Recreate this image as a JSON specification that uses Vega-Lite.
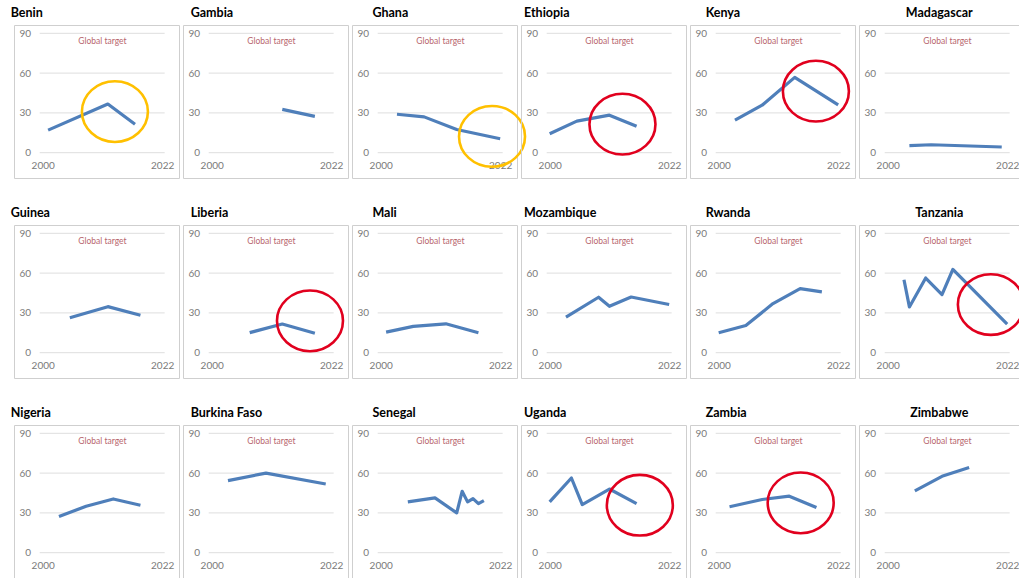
{
  "$schema": "https://vega.github.io/schema/vega-lite/v6.json",
  "background": "white",
  "padding": {"left": 10, "top": 6, "right": 0, "bottom": 3},
  "datasets": {
    "series": [
      {"country": "Benin", "year": 2001, "value": 17},
      {"country": "Benin", "year": 2012, "value": 36.7},
      {"country": "Benin", "year": 2017, "value": 21.4},
      {"country": "Gambia", "year": 2013, "value": 32.7},
      {"country": "Gambia", "year": 2019, "value": 27.4},
      {"country": "Ghana", "year": 2003, "value": 29},
      {"country": "Ghana", "year": 2008, "value": 27},
      {"country": "Ghana", "year": 2014, "value": 17.5},
      {"country": "Ghana", "year": 2022, "value": 10.5},
      {"country": "Ethiopia", "year": 2000, "value": 14.3},
      {"country": "Ethiopia", "year": 2005, "value": 23.8},
      {"country": "Ethiopia", "year": 2011, "value": 28.3},
      {"country": "Ethiopia", "year": 2016, "value": 20},
      {"country": "Kenya", "year": 2003, "value": 24.5},
      {"country": "Kenya", "year": 2008, "value": 35.8},
      {"country": "Kenya", "year": 2014, "value": 56.8},
      {"country": "Kenya", "year": 2022, "value": 36},
      {"country": "Madagascar", "year": 2004, "value": 5.3},
      {"country": "Madagascar", "year": 2008, "value": 6},
      {"country": "Madagascar", "year": 2021, "value": 4.3},
      {"country": "Guinea", "year": 2005, "value": 26.4},
      {"country": "Guinea", "year": 2012, "value": 34.7},
      {"country": "Guinea", "year": 2018, "value": 28.2},
      {"country": "Liberia", "year": 2007, "value": 15.1},
      {"country": "Liberia", "year": 2013, "value": 21.6},
      {"country": "Liberia", "year": 2019, "value": 14.6},
      {"country": "Mali", "year": 2001, "value": 15.5},
      {"country": "Mali", "year": 2006, "value": 19.8},
      {"country": "Mali", "year": 2012, "value": 21.8},
      {"country": "Mali", "year": 2018, "value": 15},
      {"country": "Mozambique", "year": 2003, "value": 26.8},
      {"country": "Mozambique", "year": 2009, "value": 41.8},
      {"country": "Mozambique", "year": 2011, "value": 35},
      {"country": "Mozambique", "year": 2015, "value": 42},
      {"country": "Mozambique", "year": 2022, "value": 36.3},
      {"country": "Rwanda", "year": 2000, "value": 15},
      {"country": "Rwanda", "year": 2005, "value": 20.5},
      {"country": "Rwanda", "year": 2010, "value": 37},
      {"country": "Rwanda", "year": 2015, "value": 48.3},
      {"country": "Rwanda", "year": 2019, "value": 45.8},
      {"country": "Tanzania", "year": 2003, "value": 55},
      {"country": "Tanzania", "year": 2004, "value": 34.5},
      {"country": "Tanzania", "year": 2007, "value": 56.3},
      {"country": "Tanzania", "year": 2010, "value": 43.8},
      {"country": "Tanzania", "year": 2012, "value": 62.8},
      {"country": "Tanzania", "year": 2022, "value": 21.5},
      {"country": "Nigeria", "year": 2003, "value": 27.3},
      {"country": "Nigeria", "year": 2008, "value": 35},
      {"country": "Nigeria", "year": 2013, "value": 40.5},
      {"country": "Nigeria", "year": 2018, "value": 35.8},
      {"country": "Burkina Faso", "year": 2003, "value": 54.3},
      {"country": "Burkina Faso", "year": 2010, "value": 60},
      {"country": "Burkina Faso", "year": 2021, "value": 51.8},
      {"country": "Senegal", "year": 2005, "value": 38.3},
      {"country": "Senegal", "year": 2010, "value": 41.3},
      {"country": "Senegal", "year": 2014, "value": 30},
      {"country": "Senegal", "year": 2015, "value": 46.3},
      {"country": "Senegal", "year": 2016, "value": 38.3},
      {"country": "Senegal", "year": 2017, "value": 40.8},
      {"country": "Senegal", "year": 2018, "value": 37},
      {"country": "Senegal", "year": 2019, "value": 39.3},
      {"country": "Uganda", "year": 2000, "value": 38.3},
      {"country": "Uganda", "year": 2004, "value": 56.3},
      {"country": "Uganda", "year": 2006, "value": 36.3},
      {"country": "Uganda", "year": 2011, "value": 48},
      {"country": "Uganda", "year": 2016, "value": 37},
      {"country": "Zambia", "year": 2002, "value": 34.6},
      {"country": "Zambia", "year": 2008, "value": 40.1},
      {"country": "Zambia", "year": 2013, "value": 42.6},
      {"country": "Zambia", "year": 2018, "value": 34.1},
      {"country": "Zimbabwe", "year": 2005, "value": 46.6},
      {"country": "Zimbabwe", "year": 2010, "value": 57.6},
      {"country": "Zimbabwe", "year": 2015, "value": 64.2}
    ],
    "levels": [{"g": 0}, {"g": 30}, {"g": 60}, {"g": 90}],
    "notes": [
      {"country": "Benin", "year": 2013.3, "value": 31, "level": "caution"},
      {"country": "Ghana", "year": 2020.5, "value": 12.3, "level": "caution"},
      {"country": "Ethiopia", "year": 2013.4, "value": 21.5, "level": "alert"},
      {"country": "Kenya", "year": 2017.9, "value": 46.4, "level": "alert"},
      {"country": "Liberia", "year": 2018.1, "value": 24, "level": "alert"},
      {"country": "Tanzania", "year": 2019, "value": 36.3, "level": "alert"},
      {"country": "Uganda", "year": 2016.6, "value": 35.8, "level": "alert"},
      {"country": "Zambia", "year": 2015.1, "value": 37.6, "level": "alert"}
    ]
  },
  "columns": 6,
  "spacing": {"row": 47, "column": 4},
  "bounds": "flush",
  "concat": [
    {"title": {"text": "Benin", "dx": -3.3}, "width": 165, "height": 153, "layer": [
      {"data": {"name": "levels"}, "mark": {"type": "rule", "color": "#dedede", "strokeWidth": 1}, "encoding": {"x": {"datum": 1999.45, "type": "quantitative", "scale": {"domain": [1994.72, 2025.1], "nice": false, "zero": false}, "axis": {"values": [2000, 2022], "format": "d", "title": null}}, "x2": {"datum": 2022.46}, "y": {"field": "g", "type": "quantitative", "scale": {"domain": [-19.07, 96.26], "nice": false, "zero": false}, "axis": {"values": [0, 30, 60, 90], "title": null}}}},
      {"data": {"name": "levels"}, "transform": [{"filter": "datum.g === 90"}], "mark": {"type": "text", "font": "Lato", "fontSize": 8.5, "color": "#b8666e", "dy": 7.5, "baseline": "middle"}, "encoding": {"x": {"datum": 2011, "type": "quantitative", "scale": {"domain": [1994.72, 2025.1], "nice": false, "zero": false}, "axis": {"values": [2000, 2022], "format": "d", "title": null}}, "y": {"field": "g", "type": "quantitative", "scale": {"domain": [-19.07, 96.26], "nice": false, "zero": false}, "axis": {"values": [0, 30, 60, 90], "title": null}}, "text": {"value": "Global target"}}},
      {"data": {"name": "series"}, "transform": [{"filter": "datum.country === 'Benin'"}], "mark": {"type": "line", "color": "#4f7fba", "strokeWidth": 3.2, "strokeJoin": "round"}, "encoding": {"x": {"field": "year", "type": "quantitative", "scale": {"domain": [1994.72, 2025.1], "nice": false, "zero": false}, "axis": {"values": [2000, 2022], "format": "d", "title": null}}, "y": {"field": "value", "type": "quantitative", "scale": {"domain": [-19.07, 96.26], "nice": false, "zero": false}, "axis": {"values": [0, 30, 60, 90], "title": null}}}},
      {"data": {"name": "notes"}, "transform": [{"filter": "datum.country === 'Benin'"}], "mark": {"type": "point", "shape": "M-1,0A1,0.92,0,1,0,1,0A1,0.92,0,1,0,-1,0Z", "size": 4356, "filled": false, "strokeWidth": 2.6, "opacity": 1}, "encoding": {"x": {"field": "year", "type": "quantitative", "scale": {"domain": [1994.72, 2025.1], "nice": false, "zero": false}, "axis": {"values": [2000, 2022], "format": "d", "title": null}}, "y": {"field": "value", "type": "quantitative", "scale": {"domain": [-19.07, 96.26], "nice": false, "zero": false}, "axis": {"values": [0, 30, 60, 90], "title": null}}, "color": {"field": "level", "type": "nominal", "scale": {"domain": ["caution", "alert"], "range": ["#ffc000", "#e1001e"]}, "legend": null}}}
    ]},
    {"title": {"text": "Gambia", "dx": 7.7}, "width": 165, "height": 153, "layer": [
      {"data": {"name": "levels"}, "mark": {"type": "rule", "color": "#dedede", "strokeWidth": 1}, "encoding": {"x": {"datum": 1999.45, "type": "quantitative", "scale": {"domain": [1994.72, 2025.1], "nice": false, "zero": false}, "axis": {"values": [2000, 2022], "format": "d", "title": null}}, "x2": {"datum": 2022.46}, "y": {"field": "g", "type": "quantitative", "scale": {"domain": [-19.07, 96.26], "nice": false, "zero": false}, "axis": {"values": [0, 30, 60, 90], "title": null}}}},
      {"data": {"name": "levels"}, "transform": [{"filter": "datum.g === 90"}], "mark": {"type": "text", "font": "Lato", "fontSize": 8.5, "color": "#b8666e", "dy": 7.5, "baseline": "middle"}, "encoding": {"x": {"datum": 2011, "type": "quantitative", "scale": {"domain": [1994.72, 2025.1], "nice": false, "zero": false}, "axis": {"values": [2000, 2022], "format": "d", "title": null}}, "y": {"field": "g", "type": "quantitative", "scale": {"domain": [-19.07, 96.26], "nice": false, "zero": false}, "axis": {"values": [0, 30, 60, 90], "title": null}}, "text": {"value": "Global target"}}},
      {"data": {"name": "series"}, "transform": [{"filter": "datum.country === 'Gambia'"}], "mark": {"type": "line", "color": "#4f7fba", "strokeWidth": 3.2, "strokeJoin": "round"}, "encoding": {"x": {"field": "year", "type": "quantitative", "scale": {"domain": [1994.72, 2025.1], "nice": false, "zero": false}, "axis": {"values": [2000, 2022], "format": "d", "title": null}}, "y": {"field": "value", "type": "quantitative", "scale": {"domain": [-19.07, 96.26], "nice": false, "zero": false}, "axis": {"values": [0, 30, 60, 90], "title": null}}}}
    ]},
    {"title": {"text": "Ghana", "dx": 20.4}, "width": 165, "height": 153, "layer": [
      {"data": {"name": "levels"}, "mark": {"type": "rule", "color": "#dedede", "strokeWidth": 1}, "encoding": {"x": {"datum": 1999.45, "type": "quantitative", "scale": {"domain": [1994.72, 2025.1], "nice": false, "zero": false}, "axis": {"values": [2000, 2022], "format": "d", "title": null}}, "x2": {"datum": 2022.46}, "y": {"field": "g", "type": "quantitative", "scale": {"domain": [-19.07, 96.26], "nice": false, "zero": false}, "axis": {"values": [0, 30, 60, 90], "title": null}}}},
      {"data": {"name": "levels"}, "transform": [{"filter": "datum.g === 90"}], "mark": {"type": "text", "font": "Lato", "fontSize": 8.5, "color": "#b8666e", "dy": 7.5, "baseline": "middle"}, "encoding": {"x": {"datum": 2011, "type": "quantitative", "scale": {"domain": [1994.72, 2025.1], "nice": false, "zero": false}, "axis": {"values": [2000, 2022], "format": "d", "title": null}}, "y": {"field": "g", "type": "quantitative", "scale": {"domain": [-19.07, 96.26], "nice": false, "zero": false}, "axis": {"values": [0, 30, 60, 90], "title": null}}, "text": {"value": "Global target"}}},
      {"data": {"name": "series"}, "transform": [{"filter": "datum.country === 'Ghana'"}], "mark": {"type": "line", "color": "#4f7fba", "strokeWidth": 3.2, "strokeJoin": "round"}, "encoding": {"x": {"field": "year", "type": "quantitative", "scale": {"domain": [1994.72, 2025.1], "nice": false, "zero": false}, "axis": {"values": [2000, 2022], "format": "d", "title": null}}, "y": {"field": "value", "type": "quantitative", "scale": {"domain": [-19.07, 96.26], "nice": false, "zero": false}, "axis": {"values": [0, 30, 60, 90], "title": null}}}},
      {"data": {"name": "notes"}, "transform": [{"filter": "datum.country === 'Ghana'"}], "mark": {"type": "point", "shape": "M-1,0A1,0.92,0,1,0,1,0A1,0.92,0,1,0,-1,0Z", "size": 4356, "filled": false, "strokeWidth": 2.6, "opacity": 1}, "encoding": {"x": {"field": "year", "type": "quantitative", "scale": {"domain": [1994.72, 2025.1], "nice": false, "zero": false}, "axis": {"values": [2000, 2022], "format": "d", "title": null}}, "y": {"field": "value", "type": "quantitative", "scale": {"domain": [-19.07, 96.26], "nice": false, "zero": false}, "axis": {"values": [0, 30, 60, 90], "title": null}}, "color": {"field": "level", "type": "nominal", "scale": {"domain": ["caution", "alert"], "range": ["#ffc000", "#e1001e"]}, "legend": null}}}
    ]},
    {"title": {"text": "Ethiopia", "dx": 3}, "width": 165, "height": 153, "layer": [
      {"data": {"name": "levels"}, "mark": {"type": "rule", "color": "#dedede", "strokeWidth": 1}, "encoding": {"x": {"datum": 1999.45, "type": "quantitative", "scale": {"domain": [1994.72, 2025.1], "nice": false, "zero": false}, "axis": {"values": [2000, 2022], "format": "d", "title": null}}, "x2": {"datum": 2022.46}, "y": {"field": "g", "type": "quantitative", "scale": {"domain": [-19.07, 96.26], "nice": false, "zero": false}, "axis": {"values": [0, 30, 60, 90], "title": null}}}},
      {"data": {"name": "levels"}, "transform": [{"filter": "datum.g === 90"}], "mark": {"type": "text", "font": "Lato", "fontSize": 8.5, "color": "#b8666e", "dy": 7.5, "baseline": "middle"}, "encoding": {"x": {"datum": 2011, "type": "quantitative", "scale": {"domain": [1994.72, 2025.1], "nice": false, "zero": false}, "axis": {"values": [2000, 2022], "format": "d", "title": null}}, "y": {"field": "g", "type": "quantitative", "scale": {"domain": [-19.07, 96.26], "nice": false, "zero": false}, "axis": {"values": [0, 30, 60, 90], "title": null}}, "text": {"value": "Global target"}}},
      {"data": {"name": "series"}, "transform": [{"filter": "datum.country === 'Ethiopia'"}], "mark": {"type": "line", "color": "#4f7fba", "strokeWidth": 3.2, "strokeJoin": "round"}, "encoding": {"x": {"field": "year", "type": "quantitative", "scale": {"domain": [1994.72, 2025.1], "nice": false, "zero": false}, "axis": {"values": [2000, 2022], "format": "d", "title": null}}, "y": {"field": "value", "type": "quantitative", "scale": {"domain": [-19.07, 96.26], "nice": false, "zero": false}, "axis": {"values": [0, 30, 60, 90], "title": null}}}},
      {"data": {"name": "notes"}, "transform": [{"filter": "datum.country === 'Ethiopia'"}], "mark": {"type": "point", "shape": "M-1,0A1,0.92,0,1,0,1,0A1,0.92,0,1,0,-1,0Z", "size": 4356, "filled": false, "strokeWidth": 2.6, "opacity": 1}, "encoding": {"x": {"field": "year", "type": "quantitative", "scale": {"domain": [1994.72, 2025.1], "nice": false, "zero": false}, "axis": {"values": [2000, 2022], "format": "d", "title": null}}, "y": {"field": "value", "type": "quantitative", "scale": {"domain": [-19.07, 96.26], "nice": false, "zero": false}, "axis": {"values": [0, 30, 60, 90], "title": null}}, "color": {"field": "level", "type": "nominal", "scale": {"domain": ["caution", "alert"], "range": ["#ffc000", "#e1001e"]}, "legend": null}}}
    ]},
    {"title": {"text": "Kenya", "dx": 15.7}, "width": 165, "height": 153, "layer": [
      {"data": {"name": "levels"}, "mark": {"type": "rule", "color": "#dedede", "strokeWidth": 1}, "encoding": {"x": {"datum": 1999.45, "type": "quantitative", "scale": {"domain": [1994.72, 2025.1], "nice": false, "zero": false}, "axis": {"values": [2000, 2022], "format": "d", "title": null}}, "x2": {"datum": 2022.46}, "y": {"field": "g", "type": "quantitative", "scale": {"domain": [-19.07, 96.26], "nice": false, "zero": false}, "axis": {"values": [0, 30, 60, 90], "title": null}}}},
      {"data": {"name": "levels"}, "transform": [{"filter": "datum.g === 90"}], "mark": {"type": "text", "font": "Lato", "fontSize": 8.5, "color": "#b8666e", "dy": 7.5, "baseline": "middle"}, "encoding": {"x": {"datum": 2011, "type": "quantitative", "scale": {"domain": [1994.72, 2025.1], "nice": false, "zero": false}, "axis": {"values": [2000, 2022], "format": "d", "title": null}}, "y": {"field": "g", "type": "quantitative", "scale": {"domain": [-19.07, 96.26], "nice": false, "zero": false}, "axis": {"values": [0, 30, 60, 90], "title": null}}, "text": {"value": "Global target"}}},
      {"data": {"name": "series"}, "transform": [{"filter": "datum.country === 'Kenya'"}], "mark": {"type": "line", "color": "#4f7fba", "strokeWidth": 3.2, "strokeJoin": "round"}, "encoding": {"x": {"field": "year", "type": "quantitative", "scale": {"domain": [1994.72, 2025.1], "nice": false, "zero": false}, "axis": {"values": [2000, 2022], "format": "d", "title": null}}, "y": {"field": "value", "type": "quantitative", "scale": {"domain": [-19.07, 96.26], "nice": false, "zero": false}, "axis": {"values": [0, 30, 60, 90], "title": null}}}},
      {"data": {"name": "notes"}, "transform": [{"filter": "datum.country === 'Kenya'"}], "mark": {"type": "point", "shape": "M-1,0A1,0.92,0,1,0,1,0A1,0.92,0,1,0,-1,0Z", "size": 4356, "filled": false, "strokeWidth": 2.6, "opacity": 1}, "encoding": {"x": {"field": "year", "type": "quantitative", "scale": {"domain": [1994.72, 2025.1], "nice": false, "zero": false}, "axis": {"values": [2000, 2022], "format": "d", "title": null}}, "y": {"field": "value", "type": "quantitative", "scale": {"domain": [-19.07, 96.26], "nice": false, "zero": false}, "axis": {"values": [0, 30, 60, 90], "title": null}}, "color": {"field": "level", "type": "nominal", "scale": {"domain": ["caution", "alert"], "range": ["#ffc000", "#e1001e"]}, "legend": null}}}
    ]},
    {"title": {"text": "Madagascar", "anchor": "middle"}, "width": 160.5, "height": 153, "layer": [
      {"data": {"name": "levels"}, "mark": {"type": "rule", "color": "#dedede", "strokeWidth": 1}, "encoding": {"x": {"datum": 1999.45, "type": "quantitative", "scale": {"domain": [1994.72, 2024.27], "nice": false, "zero": false}, "axis": {"values": [2000, 2022], "format": "d", "title": null}}, "x2": {"datum": 2022.46}, "y": {"field": "g", "type": "quantitative", "scale": {"domain": [-19.07, 96.26], "nice": false, "zero": false}, "axis": {"values": [0, 30, 60, 90], "title": null}}}},
      {"data": {"name": "levels"}, "transform": [{"filter": "datum.g === 90"}], "mark": {"type": "text", "font": "Lato", "fontSize": 8.5, "color": "#b8666e", "dy": 7.5, "baseline": "middle"}, "encoding": {"x": {"datum": 2011, "type": "quantitative", "scale": {"domain": [1994.72, 2024.27], "nice": false, "zero": false}, "axis": {"values": [2000, 2022], "format": "d", "title": null}}, "y": {"field": "g", "type": "quantitative", "scale": {"domain": [-19.07, 96.26], "nice": false, "zero": false}, "axis": {"values": [0, 30, 60, 90], "title": null}}, "text": {"value": "Global target"}}},
      {"data": {"name": "series"}, "transform": [{"filter": "datum.country === 'Madagascar'"}], "mark": {"type": "line", "color": "#4f7fba", "strokeWidth": 3.2, "strokeJoin": "round"}, "encoding": {"x": {"field": "year", "type": "quantitative", "scale": {"domain": [1994.72, 2024.27], "nice": false, "zero": false}, "axis": {"values": [2000, 2022], "format": "d", "title": null}}, "y": {"field": "value", "type": "quantitative", "scale": {"domain": [-19.07, 96.26], "nice": false, "zero": false}, "axis": {"values": [0, 30, 60, 90], "title": null}}}}
    ]},
    {"title": {"text": "Guinea", "dx": -3.3}, "width": 165, "height": 153, "layer": [
      {"data": {"name": "levels"}, "mark": {"type": "rule", "color": "#dedede", "strokeWidth": 1}, "encoding": {"x": {"datum": 1999.45, "type": "quantitative", "scale": {"domain": [1994.72, 2025.1], "nice": false, "zero": false}, "axis": {"values": [2000, 2022], "format": "d", "title": null}}, "x2": {"datum": 2022.46}, "y": {"field": "g", "type": "quantitative", "scale": {"domain": [-19.07, 96.26], "nice": false, "zero": false}, "axis": {"values": [0, 30, 60, 90], "title": null}}}},
      {"data": {"name": "levels"}, "transform": [{"filter": "datum.g === 90"}], "mark": {"type": "text", "font": "Lato", "fontSize": 8.5, "color": "#b8666e", "dy": 7.5, "baseline": "middle"}, "encoding": {"x": {"datum": 2011, "type": "quantitative", "scale": {"domain": [1994.72, 2025.1], "nice": false, "zero": false}, "axis": {"values": [2000, 2022], "format": "d", "title": null}}, "y": {"field": "g", "type": "quantitative", "scale": {"domain": [-19.07, 96.26], "nice": false, "zero": false}, "axis": {"values": [0, 30, 60, 90], "title": null}}, "text": {"value": "Global target"}}},
      {"data": {"name": "series"}, "transform": [{"filter": "datum.country === 'Guinea'"}], "mark": {"type": "line", "color": "#4f7fba", "strokeWidth": 3.2, "strokeJoin": "round"}, "encoding": {"x": {"field": "year", "type": "quantitative", "scale": {"domain": [1994.72, 2025.1], "nice": false, "zero": false}, "axis": {"values": [2000, 2022], "format": "d", "title": null}}, "y": {"field": "value", "type": "quantitative", "scale": {"domain": [-19.07, 96.26], "nice": false, "zero": false}, "axis": {"values": [0, 30, 60, 90], "title": null}}}}
    ]},
    {"title": {"text": "Liberia", "dx": 7.7}, "width": 165, "height": 153, "layer": [
      {"data": {"name": "levels"}, "mark": {"type": "rule", "color": "#dedede", "strokeWidth": 1}, "encoding": {"x": {"datum": 1999.45, "type": "quantitative", "scale": {"domain": [1994.72, 2025.1], "nice": false, "zero": false}, "axis": {"values": [2000, 2022], "format": "d", "title": null}}, "x2": {"datum": 2022.46}, "y": {"field": "g", "type": "quantitative", "scale": {"domain": [-19.07, 96.26], "nice": false, "zero": false}, "axis": {"values": [0, 30, 60, 90], "title": null}}}},
      {"data": {"name": "levels"}, "transform": [{"filter": "datum.g === 90"}], "mark": {"type": "text", "font": "Lato", "fontSize": 8.5, "color": "#b8666e", "dy": 7.5, "baseline": "middle"}, "encoding": {"x": {"datum": 2011, "type": "quantitative", "scale": {"domain": [1994.72, 2025.1], "nice": false, "zero": false}, "axis": {"values": [2000, 2022], "format": "d", "title": null}}, "y": {"field": "g", "type": "quantitative", "scale": {"domain": [-19.07, 96.26], "nice": false, "zero": false}, "axis": {"values": [0, 30, 60, 90], "title": null}}, "text": {"value": "Global target"}}},
      {"data": {"name": "series"}, "transform": [{"filter": "datum.country === 'Liberia'"}], "mark": {"type": "line", "color": "#4f7fba", "strokeWidth": 3.2, "strokeJoin": "round"}, "encoding": {"x": {"field": "year", "type": "quantitative", "scale": {"domain": [1994.72, 2025.1], "nice": false, "zero": false}, "axis": {"values": [2000, 2022], "format": "d", "title": null}}, "y": {"field": "value", "type": "quantitative", "scale": {"domain": [-19.07, 96.26], "nice": false, "zero": false}, "axis": {"values": [0, 30, 60, 90], "title": null}}}},
      {"data": {"name": "notes"}, "transform": [{"filter": "datum.country === 'Liberia'"}], "mark": {"type": "point", "shape": "M-1,0A1,0.92,0,1,0,1,0A1,0.92,0,1,0,-1,0Z", "size": 4356, "filled": false, "strokeWidth": 2.6, "opacity": 1}, "encoding": {"x": {"field": "year", "type": "quantitative", "scale": {"domain": [1994.72, 2025.1], "nice": false, "zero": false}, "axis": {"values": [2000, 2022], "format": "d", "title": null}}, "y": {"field": "value", "type": "quantitative", "scale": {"domain": [-19.07, 96.26], "nice": false, "zero": false}, "axis": {"values": [0, 30, 60, 90], "title": null}}, "color": {"field": "level", "type": "nominal", "scale": {"domain": ["caution", "alert"], "range": ["#ffc000", "#e1001e"]}, "legend": null}}}
    ]},
    {"title": {"text": "Mali", "dx": 20.4}, "width": 165, "height": 153, "layer": [
      {"data": {"name": "levels"}, "mark": {"type": "rule", "color": "#dedede", "strokeWidth": 1}, "encoding": {"x": {"datum": 1999.45, "type": "quantitative", "scale": {"domain": [1994.72, 2025.1], "nice": false, "zero": false}, "axis": {"values": [2000, 2022], "format": "d", "title": null}}, "x2": {"datum": 2022.46}, "y": {"field": "g", "type": "quantitative", "scale": {"domain": [-19.07, 96.26], "nice": false, "zero": false}, "axis": {"values": [0, 30, 60, 90], "title": null}}}},
      {"data": {"name": "levels"}, "transform": [{"filter": "datum.g === 90"}], "mark": {"type": "text", "font": "Lato", "fontSize": 8.5, "color": "#b8666e", "dy": 7.5, "baseline": "middle"}, "encoding": {"x": {"datum": 2011, "type": "quantitative", "scale": {"domain": [1994.72, 2025.1], "nice": false, "zero": false}, "axis": {"values": [2000, 2022], "format": "d", "title": null}}, "y": {"field": "g", "type": "quantitative", "scale": {"domain": [-19.07, 96.26], "nice": false, "zero": false}, "axis": {"values": [0, 30, 60, 90], "title": null}}, "text": {"value": "Global target"}}},
      {"data": {"name": "series"}, "transform": [{"filter": "datum.country === 'Mali'"}], "mark": {"type": "line", "color": "#4f7fba", "strokeWidth": 3.2, "strokeJoin": "round"}, "encoding": {"x": {"field": "year", "type": "quantitative", "scale": {"domain": [1994.72, 2025.1], "nice": false, "zero": false}, "axis": {"values": [2000, 2022], "format": "d", "title": null}}, "y": {"field": "value", "type": "quantitative", "scale": {"domain": [-19.07, 96.26], "nice": false, "zero": false}, "axis": {"values": [0, 30, 60, 90], "title": null}}}}
    ]},
    {"title": {"text": "Mozambique", "dx": 3}, "width": 165, "height": 153, "layer": [
      {"data": {"name": "levels"}, "mark": {"type": "rule", "color": "#dedede", "strokeWidth": 1}, "encoding": {"x": {"datum": 1999.45, "type": "quantitative", "scale": {"domain": [1994.72, 2025.1], "nice": false, "zero": false}, "axis": {"values": [2000, 2022], "format": "d", "title": null}}, "x2": {"datum": 2022.46}, "y": {"field": "g", "type": "quantitative", "scale": {"domain": [-19.07, 96.26], "nice": false, "zero": false}, "axis": {"values": [0, 30, 60, 90], "title": null}}}},
      {"data": {"name": "levels"}, "transform": [{"filter": "datum.g === 90"}], "mark": {"type": "text", "font": "Lato", "fontSize": 8.5, "color": "#b8666e", "dy": 7.5, "baseline": "middle"}, "encoding": {"x": {"datum": 2011, "type": "quantitative", "scale": {"domain": [1994.72, 2025.1], "nice": false, "zero": false}, "axis": {"values": [2000, 2022], "format": "d", "title": null}}, "y": {"field": "g", "type": "quantitative", "scale": {"domain": [-19.07, 96.26], "nice": false, "zero": false}, "axis": {"values": [0, 30, 60, 90], "title": null}}, "text": {"value": "Global target"}}},
      {"data": {"name": "series"}, "transform": [{"filter": "datum.country === 'Mozambique'"}], "mark": {"type": "line", "color": "#4f7fba", "strokeWidth": 3.2, "strokeJoin": "round"}, "encoding": {"x": {"field": "year", "type": "quantitative", "scale": {"domain": [1994.72, 2025.1], "nice": false, "zero": false}, "axis": {"values": [2000, 2022], "format": "d", "title": null}}, "y": {"field": "value", "type": "quantitative", "scale": {"domain": [-19.07, 96.26], "nice": false, "zero": false}, "axis": {"values": [0, 30, 60, 90], "title": null}}}}
    ]},
    {"title": {"text": "Rwanda", "dx": 15.7}, "width": 165, "height": 153, "layer": [
      {"data": {"name": "levels"}, "mark": {"type": "rule", "color": "#dedede", "strokeWidth": 1}, "encoding": {"x": {"datum": 1999.45, "type": "quantitative", "scale": {"domain": [1994.72, 2025.1], "nice": false, "zero": false}, "axis": {"values": [2000, 2022], "format": "d", "title": null}}, "x2": {"datum": 2022.46}, "y": {"field": "g", "type": "quantitative", "scale": {"domain": [-19.07, 96.26], "nice": false, "zero": false}, "axis": {"values": [0, 30, 60, 90], "title": null}}}},
      {"data": {"name": "levels"}, "transform": [{"filter": "datum.g === 90"}], "mark": {"type": "text", "font": "Lato", "fontSize": 8.5, "color": "#b8666e", "dy": 7.5, "baseline": "middle"}, "encoding": {"x": {"datum": 2011, "type": "quantitative", "scale": {"domain": [1994.72, 2025.1], "nice": false, "zero": false}, "axis": {"values": [2000, 2022], "format": "d", "title": null}}, "y": {"field": "g", "type": "quantitative", "scale": {"domain": [-19.07, 96.26], "nice": false, "zero": false}, "axis": {"values": [0, 30, 60, 90], "title": null}}, "text": {"value": "Global target"}}},
      {"data": {"name": "series"}, "transform": [{"filter": "datum.country === 'Rwanda'"}], "mark": {"type": "line", "color": "#4f7fba", "strokeWidth": 3.2, "strokeJoin": "round"}, "encoding": {"x": {"field": "year", "type": "quantitative", "scale": {"domain": [1994.72, 2025.1], "nice": false, "zero": false}, "axis": {"values": [2000, 2022], "format": "d", "title": null}}, "y": {"field": "value", "type": "quantitative", "scale": {"domain": [-19.07, 96.26], "nice": false, "zero": false}, "axis": {"values": [0, 30, 60, 90], "title": null}}}}
    ]},
    {"title": {"text": "Tanzania", "anchor": "middle"}, "width": 160.5, "height": 153, "layer": [
      {"data": {"name": "levels"}, "mark": {"type": "rule", "color": "#dedede", "strokeWidth": 1}, "encoding": {"x": {"datum": 1999.45, "type": "quantitative", "scale": {"domain": [1994.72, 2024.27], "nice": false, "zero": false}, "axis": {"values": [2000, 2022], "format": "d", "title": null}}, "x2": {"datum": 2022.46}, "y": {"field": "g", "type": "quantitative", "scale": {"domain": [-19.07, 96.26], "nice": false, "zero": false}, "axis": {"values": [0, 30, 60, 90], "title": null}}}},
      {"data": {"name": "levels"}, "transform": [{"filter": "datum.g === 90"}], "mark": {"type": "text", "font": "Lato", "fontSize": 8.5, "color": "#b8666e", "dy": 7.5, "baseline": "middle"}, "encoding": {"x": {"datum": 2011, "type": "quantitative", "scale": {"domain": [1994.72, 2024.27], "nice": false, "zero": false}, "axis": {"values": [2000, 2022], "format": "d", "title": null}}, "y": {"field": "g", "type": "quantitative", "scale": {"domain": [-19.07, 96.26], "nice": false, "zero": false}, "axis": {"values": [0, 30, 60, 90], "title": null}}, "text": {"value": "Global target"}}},
      {"data": {"name": "series"}, "transform": [{"filter": "datum.country === 'Tanzania'"}], "mark": {"type": "line", "color": "#4f7fba", "strokeWidth": 3.2, "strokeJoin": "round"}, "encoding": {"x": {"field": "year", "type": "quantitative", "scale": {"domain": [1994.72, 2024.27], "nice": false, "zero": false}, "axis": {"values": [2000, 2022], "format": "d", "title": null}}, "y": {"field": "value", "type": "quantitative", "scale": {"domain": [-19.07, 96.26], "nice": false, "zero": false}, "axis": {"values": [0, 30, 60, 90], "title": null}}}},
      {"data": {"name": "notes"}, "transform": [{"filter": "datum.country === 'Tanzania'"}], "mark": {"type": "point", "shape": "M-1,0A1,0.92,0,1,0,1,0A1,0.92,0,1,0,-1,0Z", "size": 4356, "filled": false, "strokeWidth": 2.6, "opacity": 1, "clip": true}, "encoding": {"x": {"field": "year", "type": "quantitative", "scale": {"domain": [1994.72, 2024.27], "nice": false, "zero": false}, "axis": {"values": [2000, 2022], "format": "d", "title": null}}, "y": {"field": "value", "type": "quantitative", "scale": {"domain": [-19.07, 96.26], "nice": false, "zero": false}, "axis": {"values": [0, 30, 60, 90], "title": null}}, "color": {"field": "level", "type": "nominal", "scale": {"domain": ["caution", "alert"], "range": ["#ffc000", "#e1001e"]}, "legend": null}}}
    ]},
    {"title": {"text": "Nigeria", "dx": -3.3}, "width": 165, "height": 153, "layer": [
      {"data": {"name": "levels"}, "mark": {"type": "rule", "color": "#dedede", "strokeWidth": 1}, "encoding": {"x": {"datum": 1999.45, "type": "quantitative", "scale": {"domain": [1994.72, 2025.1], "nice": false, "zero": false}, "axis": {"values": [2000, 2022], "format": "d", "title": null}}, "x2": {"datum": 2022.46}, "y": {"field": "g", "type": "quantitative", "scale": {"domain": [-19.07, 96.26], "nice": false, "zero": false}, "axis": {"values": [0, 30, 60, 90], "title": null}}}},
      {"data": {"name": "levels"}, "transform": [{"filter": "datum.g === 90"}], "mark": {"type": "text", "font": "Lato", "fontSize": 8.5, "color": "#b8666e", "dy": 7.5, "baseline": "middle"}, "encoding": {"x": {"datum": 2011, "type": "quantitative", "scale": {"domain": [1994.72, 2025.1], "nice": false, "zero": false}, "axis": {"values": [2000, 2022], "format": "d", "title": null}}, "y": {"field": "g", "type": "quantitative", "scale": {"domain": [-19.07, 96.26], "nice": false, "zero": false}, "axis": {"values": [0, 30, 60, 90], "title": null}}, "text": {"value": "Global target"}}},
      {"data": {"name": "series"}, "transform": [{"filter": "datum.country === 'Nigeria'"}], "mark": {"type": "line", "color": "#4f7fba", "strokeWidth": 3.2, "strokeJoin": "round"}, "encoding": {"x": {"field": "year", "type": "quantitative", "scale": {"domain": [1994.72, 2025.1], "nice": false, "zero": false}, "axis": {"values": [2000, 2022], "format": "d", "title": null}}, "y": {"field": "value", "type": "quantitative", "scale": {"domain": [-19.07, 96.26], "nice": false, "zero": false}, "axis": {"values": [0, 30, 60, 90], "title": null}}}}
    ]},
    {"title": {"text": "Burkina Faso", "dx": 7.7}, "width": 165, "height": 153, "layer": [
      {"data": {"name": "levels"}, "mark": {"type": "rule", "color": "#dedede", "strokeWidth": 1}, "encoding": {"x": {"datum": 1999.45, "type": "quantitative", "scale": {"domain": [1994.72, 2025.1], "nice": false, "zero": false}, "axis": {"values": [2000, 2022], "format": "d", "title": null}}, "x2": {"datum": 2022.46}, "y": {"field": "g", "type": "quantitative", "scale": {"domain": [-19.07, 96.26], "nice": false, "zero": false}, "axis": {"values": [0, 30, 60, 90], "title": null}}}},
      {"data": {"name": "levels"}, "transform": [{"filter": "datum.g === 90"}], "mark": {"type": "text", "font": "Lato", "fontSize": 8.5, "color": "#b8666e", "dy": 7.5, "baseline": "middle"}, "encoding": {"x": {"datum": 2011, "type": "quantitative", "scale": {"domain": [1994.72, 2025.1], "nice": false, "zero": false}, "axis": {"values": [2000, 2022], "format": "d", "title": null}}, "y": {"field": "g", "type": "quantitative", "scale": {"domain": [-19.07, 96.26], "nice": false, "zero": false}, "axis": {"values": [0, 30, 60, 90], "title": null}}, "text": {"value": "Global target"}}},
      {"data": {"name": "series"}, "transform": [{"filter": "datum.country === 'Burkina Faso'"}], "mark": {"type": "line", "color": "#4f7fba", "strokeWidth": 3.2, "strokeJoin": "round"}, "encoding": {"x": {"field": "year", "type": "quantitative", "scale": {"domain": [1994.72, 2025.1], "nice": false, "zero": false}, "axis": {"values": [2000, 2022], "format": "d", "title": null}}, "y": {"field": "value", "type": "quantitative", "scale": {"domain": [-19.07, 96.26], "nice": false, "zero": false}, "axis": {"values": [0, 30, 60, 90], "title": null}}}}
    ]},
    {"title": {"text": "Senegal", "dx": 20.4}, "width": 165, "height": 153, "layer": [
      {"data": {"name": "levels"}, "mark": {"type": "rule", "color": "#dedede", "strokeWidth": 1}, "encoding": {"x": {"datum": 1999.45, "type": "quantitative", "scale": {"domain": [1994.72, 2025.1], "nice": false, "zero": false}, "axis": {"values": [2000, 2022], "format": "d", "title": null}}, "x2": {"datum": 2022.46}, "y": {"field": "g", "type": "quantitative", "scale": {"domain": [-19.07, 96.26], "nice": false, "zero": false}, "axis": {"values": [0, 30, 60, 90], "title": null}}}},
      {"data": {"name": "levels"}, "transform": [{"filter": "datum.g === 90"}], "mark": {"type": "text", "font": "Lato", "fontSize": 8.5, "color": "#b8666e", "dy": 7.5, "baseline": "middle"}, "encoding": {"x": {"datum": 2011, "type": "quantitative", "scale": {"domain": [1994.72, 2025.1], "nice": false, "zero": false}, "axis": {"values": [2000, 2022], "format": "d", "title": null}}, "y": {"field": "g", "type": "quantitative", "scale": {"domain": [-19.07, 96.26], "nice": false, "zero": false}, "axis": {"values": [0, 30, 60, 90], "title": null}}, "text": {"value": "Global target"}}},
      {"data": {"name": "series"}, "transform": [{"filter": "datum.country === 'Senegal'"}], "mark": {"type": "line", "color": "#4f7fba", "strokeWidth": 3.2, "strokeJoin": "round"}, "encoding": {"x": {"field": "year", "type": "quantitative", "scale": {"domain": [1994.72, 2025.1], "nice": false, "zero": false}, "axis": {"values": [2000, 2022], "format": "d", "title": null}}, "y": {"field": "value", "type": "quantitative", "scale": {"domain": [-19.07, 96.26], "nice": false, "zero": false}, "axis": {"values": [0, 30, 60, 90], "title": null}}}}
    ]},
    {"title": {"text": "Uganda", "dx": 3}, "width": 165, "height": 153, "layer": [
      {"data": {"name": "levels"}, "mark": {"type": "rule", "color": "#dedede", "strokeWidth": 1}, "encoding": {"x": {"datum": 1999.45, "type": "quantitative", "scale": {"domain": [1994.72, 2025.1], "nice": false, "zero": false}, "axis": {"values": [2000, 2022], "format": "d", "title": null}}, "x2": {"datum": 2022.46}, "y": {"field": "g", "type": "quantitative", "scale": {"domain": [-19.07, 96.26], "nice": false, "zero": false}, "axis": {"values": [0, 30, 60, 90], "title": null}}}},
      {"data": {"name": "levels"}, "transform": [{"filter": "datum.g === 90"}], "mark": {"type": "text", "font": "Lato", "fontSize": 8.5, "color": "#b8666e", "dy": 7.5, "baseline": "middle"}, "encoding": {"x": {"datum": 2011, "type": "quantitative", "scale": {"domain": [1994.72, 2025.1], "nice": false, "zero": false}, "axis": {"values": [2000, 2022], "format": "d", "title": null}}, "y": {"field": "g", "type": "quantitative", "scale": {"domain": [-19.07, 96.26], "nice": false, "zero": false}, "axis": {"values": [0, 30, 60, 90], "title": null}}, "text": {"value": "Global target"}}},
      {"data": {"name": "series"}, "transform": [{"filter": "datum.country === 'Uganda'"}], "mark": {"type": "line", "color": "#4f7fba", "strokeWidth": 3.2, "strokeJoin": "round"}, "encoding": {"x": {"field": "year", "type": "quantitative", "scale": {"domain": [1994.72, 2025.1], "nice": false, "zero": false}, "axis": {"values": [2000, 2022], "format": "d", "title": null}}, "y": {"field": "value", "type": "quantitative", "scale": {"domain": [-19.07, 96.26], "nice": false, "zero": false}, "axis": {"values": [0, 30, 60, 90], "title": null}}}},
      {"data": {"name": "notes"}, "transform": [{"filter": "datum.country === 'Uganda'"}], "mark": {"type": "point", "shape": "M-1,0A1,0.92,0,1,0,1,0A1,0.92,0,1,0,-1,0Z", "size": 4356, "filled": false, "strokeWidth": 2.6, "opacity": 1}, "encoding": {"x": {"field": "year", "type": "quantitative", "scale": {"domain": [1994.72, 2025.1], "nice": false, "zero": false}, "axis": {"values": [2000, 2022], "format": "d", "title": null}}, "y": {"field": "value", "type": "quantitative", "scale": {"domain": [-19.07, 96.26], "nice": false, "zero": false}, "axis": {"values": [0, 30, 60, 90], "title": null}}, "color": {"field": "level", "type": "nominal", "scale": {"domain": ["caution", "alert"], "range": ["#ffc000", "#e1001e"]}, "legend": null}}}
    ]},
    {"title": {"text": "Zambia", "dx": 15.7}, "width": 165, "height": 153, "layer": [
      {"data": {"name": "levels"}, "mark": {"type": "rule", "color": "#dedede", "strokeWidth": 1}, "encoding": {"x": {"datum": 1999.45, "type": "quantitative", "scale": {"domain": [1994.72, 2025.1], "nice": false, "zero": false}, "axis": {"values": [2000, 2022], "format": "d", "title": null}}, "x2": {"datum": 2022.46}, "y": {"field": "g", "type": "quantitative", "scale": {"domain": [-19.07, 96.26], "nice": false, "zero": false}, "axis": {"values": [0, 30, 60, 90], "title": null}}}},
      {"data": {"name": "levels"}, "transform": [{"filter": "datum.g === 90"}], "mark": {"type": "text", "font": "Lato", "fontSize": 8.5, "color": "#b8666e", "dy": 7.5, "baseline": "middle"}, "encoding": {"x": {"datum": 2011, "type": "quantitative", "scale": {"domain": [1994.72, 2025.1], "nice": false, "zero": false}, "axis": {"values": [2000, 2022], "format": "d", "title": null}}, "y": {"field": "g", "type": "quantitative", "scale": {"domain": [-19.07, 96.26], "nice": false, "zero": false}, "axis": {"values": [0, 30, 60, 90], "title": null}}, "text": {"value": "Global target"}}},
      {"data": {"name": "series"}, "transform": [{"filter": "datum.country === 'Zambia'"}], "mark": {"type": "line", "color": "#4f7fba", "strokeWidth": 3.2, "strokeJoin": "round"}, "encoding": {"x": {"field": "year", "type": "quantitative", "scale": {"domain": [1994.72, 2025.1], "nice": false, "zero": false}, "axis": {"values": [2000, 2022], "format": "d", "title": null}}, "y": {"field": "value", "type": "quantitative", "scale": {"domain": [-19.07, 96.26], "nice": false, "zero": false}, "axis": {"values": [0, 30, 60, 90], "title": null}}}},
      {"data": {"name": "notes"}, "transform": [{"filter": "datum.country === 'Zambia'"}], "mark": {"type": "point", "shape": "M-1,0A1,0.92,0,1,0,1,0A1,0.92,0,1,0,-1,0Z", "size": 4356, "filled": false, "strokeWidth": 2.6, "opacity": 1}, "encoding": {"x": {"field": "year", "type": "quantitative", "scale": {"domain": [1994.72, 2025.1], "nice": false, "zero": false}, "axis": {"values": [2000, 2022], "format": "d", "title": null}}, "y": {"field": "value", "type": "quantitative", "scale": {"domain": [-19.07, 96.26], "nice": false, "zero": false}, "axis": {"values": [0, 30, 60, 90], "title": null}}, "color": {"field": "level", "type": "nominal", "scale": {"domain": ["caution", "alert"], "range": ["#ffc000", "#e1001e"]}, "legend": null}}}
    ]},
    {"title": {"text": "Zimbabwe", "anchor": "middle"}, "width": 160.5, "height": 153, "layer": [
      {"data": {"name": "levels"}, "mark": {"type": "rule", "color": "#dedede", "strokeWidth": 1}, "encoding": {"x": {"datum": 1999.45, "type": "quantitative", "scale": {"domain": [1994.72, 2024.27], "nice": false, "zero": false}, "axis": {"values": [2000, 2022], "format": "d", "title": null}}, "x2": {"datum": 2022.46}, "y": {"field": "g", "type": "quantitative", "scale": {"domain": [-19.07, 96.26], "nice": false, "zero": false}, "axis": {"values": [0, 30, 60, 90], "title": null}}}},
      {"data": {"name": "levels"}, "transform": [{"filter": "datum.g === 90"}], "mark": {"type": "text", "font": "Lato", "fontSize": 8.5, "color": "#b8666e", "dy": 7.5, "baseline": "middle"}, "encoding": {"x": {"datum": 2011, "type": "quantitative", "scale": {"domain": [1994.72, 2024.27], "nice": false, "zero": false}, "axis": {"values": [2000, 2022], "format": "d", "title": null}}, "y": {"field": "g", "type": "quantitative", "scale": {"domain": [-19.07, 96.26], "nice": false, "zero": false}, "axis": {"values": [0, 30, 60, 90], "title": null}}, "text": {"value": "Global target"}}},
      {"data": {"name": "series"}, "transform": [{"filter": "datum.country === 'Zimbabwe'"}], "mark": {"type": "line", "color": "#4f7fba", "strokeWidth": 3.2, "strokeJoin": "round"}, "encoding": {"x": {"field": "year", "type": "quantitative", "scale": {"domain": [1994.72, 2024.27], "nice": false, "zero": false}, "axis": {"values": [2000, 2022], "format": "d", "title": null}}, "y": {"field": "value", "type": "quantitative", "scale": {"domain": [-19.07, 96.26], "nice": false, "zero": false}, "axis": {"values": [0, 30, 60, 90], "title": null}}}}
    ]}
  ],
  "config": {
    "font": "Lato",
    "view": {"stroke": "#cfcfcf", "strokeWidth": 1},
    "axis": {"domain": false, "ticks": false, "tickSize": 0, "grid": false, "labelFont": "Lato", "labelFontSize": 10, "labelColor": "#7a7a7a", "labelPadding": 2, "labelFlush": false, "labelOverlap": false},
    "axisX": {"offset": -20},
    "axisY": {"offset": -18.5},
    "title": {"anchor": "start", "frame": "group", "font": "Lato", "fontSize": 12.5, "fontWeight": "bold", "color": "#000000", "baseline": "alphabetic", "offset": 5.5}
  }
}
